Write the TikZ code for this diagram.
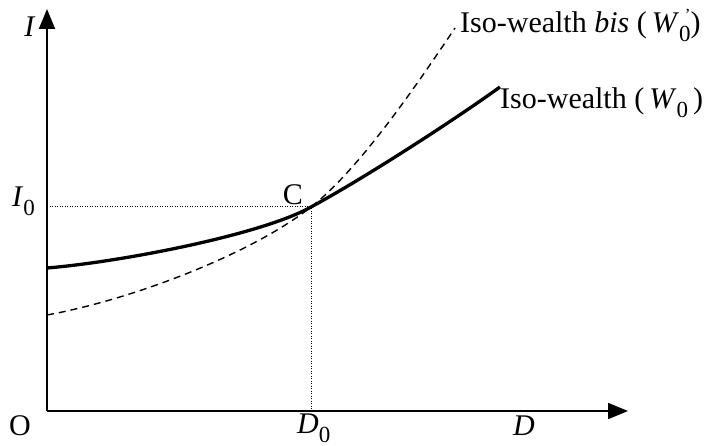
\documentclass[tikz,border=0pt]{standalone}
\usepackage{fontspec}
\setmainfont{Liberation Serif}
\usepackage{tikz}
\usetikzlibrary{arrows.meta}
\newcommand{\lowsub}[1]{\raisebox{-0.3em}{\fontsize{23}{24}\selectfont #1}}
\newcommand{\primeover}{\rlap{\raisebox{0.42em}{\fontsize{17}{18}\selectfont\,\,'}}}

\begin{document}
\begin{tikzpicture}[x=1pt, y=-1pt,
    every node/.style={font=\fontsize{30}{33}\selectfont, inner sep=0pt},
    axis/.style={line width=2pt, -{Triangle[length=20pt, width=16pt]}},
    wealth/.style={line width=3.3pt},
    wealthbis/.style={line width=1.4pt, dash pattern=on 7pt off 5pt},
    guide/.style={line width=1pt, dash pattern=on 1pt off 1.5pt}
]
\useasboundingbox (0,0) rectangle (711,446);
\coordinate (O) at (47, 411);
\coordinate (Itip) at (47, 9);
\coordinate (Dtip) at (628, 411);
\coordinate (C) at (311, 207);
\coordinate (Iax) at (47, 207);
\coordinate (Dax) at (311, 411);
\coordinate (Wstart) at (47, 268);
\coordinate (Wend) at (500, 87);
\coordinate (Bstart) at (47, 315);
\coordinate (Bend) at (455, 28);
\draw[axis] (O) -- (Itip);
\draw[axis] (O) -- (Dtip);
\draw[guide] (Iax) -- (C) -- (Dax);
\draw[wealthbis] (Bstart) .. controls (130, 300) and (250, 255) .. (C)
    .. controls (360, 169) and (420, 80) .. (Bend);
\draw[wealth] (Wstart) .. controls (120, 262) and (261, 235) .. (C)
    .. controls (361, 180) and (450, 123) .. (Wend);
\node[anchor=base] (Ilab) at (30, 37) {\textit{I}};
\node[anchor=base west] (I0lab) at (12, 207) {\textit{I}\lowsub{0}};
\node[anchor=base] (Olab) at (20, 435) {O};
\node[anchor=base west] (D0lab) at (297, 433) {\textit{D}\lowsub{0}};
\node[anchor=base] (Dlab) at (524, 435) {\textit{D}};
\node[anchor=base] (Clab) at (293, 205) {C};
\node[anchor=base west] (bislab) at (460, 33) {Iso-wealth \textit{bis} (\,\textit{W}\primeover\lowsub{0})};
\node[anchor=base west] (wlab) at (500, 109) {Iso-wealth (\,\textit{W}\lowsub{0}\,)};
\end{tikzpicture}
\end{document}
